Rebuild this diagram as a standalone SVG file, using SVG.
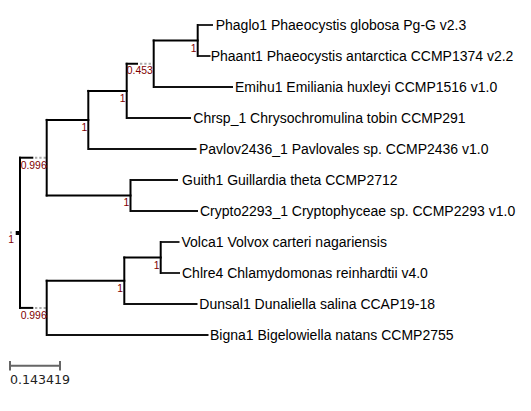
<svg xmlns="http://www.w3.org/2000/svg" width="531" height="411" viewBox="0 0 531 411">
<style>
.b{stroke:#000;stroke-width:2;fill:none;stroke-linecap:square}
.lf{stroke:#111;stroke-width:1.8;fill:none}
.dot{stroke:#aaa;stroke-width:2;fill:none;stroke-dasharray:2.3 2}
.lab{font-family:"Liberation Sans",Arial,sans-serif;font-size:14px;fill:#000}
.bs{font-family:"Liberation Sans",Arial,sans-serif;font-size:10.4px;fill:#800000;text-anchor:end}
.sc{stroke:#666;stroke-width:2;fill:none}
</style>
<rect width="531" height="411" fill="#fff"/>
<g id="connectors">
<!-- root -->
<path class="b" d="M20,157.7V307.9"/>
<path class="b" d="M20,157.7H32.3"/><path class="dot" d="M35,157.7H46.7"/>
<path class="b" d="M20,307.9H32.3"/><path class="dot" d="M35,307.9H46.7"/>
<!-- upper clade -->
<path class="b" d="M46.7,119.9V195.5"/>
<path class="b" d="M46.7,119.9H88.3"/>
<path class="b" d="M46.7,195.5H130.5"/>
<path class="b" d="M88.3,90.9V149"/>
<path class="lf" d="M88.3,149H196.5"/>
<path class="b" d="M88.3,90.9H126.7"/>
<path class="b" d="M126.7,63.75V118"/>
<path class="lf" d="M126.7,118H191"/>
<path class="b" d="M126.7,63.75H137"/><path class="dot" d="M140,63.75H153.7"/>
<path class="b" d="M153.7,40.5V87"/>
<path class="lf" d="M153.7,87H233"/>
<path class="b" d="M153.7,40.5H197.7"/>
<path class="b" d="M197.7,25V56"/>
<path class="lf" d="M197.7,25H213"/>
<path class="lf" d="M197.7,56H210.5"/>
<path class="b" d="M130.5,180V211"/>
<path class="lf" d="M130.5,180H178"/>
<path class="lf" d="M130.5,211H198"/>
<!-- lower clade -->
<path class="b" d="M46.7,280.75V335"/>
<path class="lf" d="M46.7,335H208.5"/>
<path class="b" d="M46.7,280.75H124.3"/>
<path class="b" d="M124.3,257.5V304"/>
<path class="lf" d="M124.3,304H197.5"/>
<path class="b" d="M124.3,257.5H160.7"/>
<path class="b" d="M160.7,242V273"/>
<path class="lf" d="M160.7,242H179.5"/>
<path class="lf" d="M160.7,273H180"/>
</g>
<g id="root">
<rect x="15.7" y="231" width="3.3" height="4" fill="#000"/>
<rect x="10" y="231.5" width="2" height="2" fill="#aaa"/>
<text class="bs" x="14" y="243.3">1</text>
</g>
<g id="n_upper"><text class="bs" x="46.7" y="168.5">0.996</text></g>
<g id="n_lower"><text class="bs" x="46.7" y="319">0.996</text></g>
<g id="n_pav"><text class="bs" x="87.2" y="130.8">1</text></g>
<g id="n_chr"><text class="bs" x="125.5" y="101.6">1</text></g>
<g id="n_emi"><text class="bs" x="152.8" y="74.4">0.453</text></g>
<g id="n_pha"><text class="bs" x="196.5" y="51.7">1</text></g>
<g id="n_gui"><text class="bs" x="129.3" y="206.3">1</text></g>
<g id="n_dun"><text class="bs" x="123.1" y="291.7">1</text></g>
<g id="n_vol"><text class="bs" x="159.5" y="269">1</text></g>
<g id="leaf_phaglo"><text class="lab" x="215.7" y="30">Phaglo1 Phaeocystis globosa Pg-G v2.3</text></g>
<g id="leaf_phaant"><text class="lab" x="210.7" y="61">Phaant1 Phaeocystis antarctica CCMP1374 v2.2</text></g>
<g id="leaf_emihu"><text class="lab" x="235" y="92">Emihu1 Emiliania huxleyi CCMP1516 v1.0</text></g>
<g id="leaf_chrsp"><text class="lab" x="193.3" y="123">Chrsp_1 Chrysochromulina tobin CCMP291</text></g>
<g id="leaf_pavlov"><text class="lab" x="199" y="154">Pavlov2436_1 Pavlovales sp. CCMP2436 v1.0</text></g>
<g id="leaf_guith"><text class="lab" x="182" y="185">Guith1 Guillardia theta CCMP2712</text></g>
<g id="leaf_crypto"><text class="lab" x="200" y="216">Crypto2293_1 Cryptophyceae sp. CCMP2293 v1.0</text></g>
<g id="leaf_volca"><text class="lab" x="181.5" y="247">Volca1 Volvox carteri nagariensis</text></g>
<g id="leaf_chlre"><text class="lab" x="182" y="278">Chlre4 Chlamydomonas reinhardtii v4.0</text></g>
<g id="leaf_dunsal"><text class="lab" x="199.3" y="309">Dunsal1 Dunaliella salina CCAP19-18</text></g>
<g id="leaf_bigna"><text class="lab" x="210" y="340">Bigna1 Bigelowiella natans CCMP2755</text></g>
<g id="scale">
<path class="sc" d="M10,365.7H60M10,361V370.5M60,361V370.5"/>
<text x="10" y="383.5" font-family="DejaVu Sans,sans-serif" font-size="12.6" fill="#222">0.143419</text>
</g>
</svg>
